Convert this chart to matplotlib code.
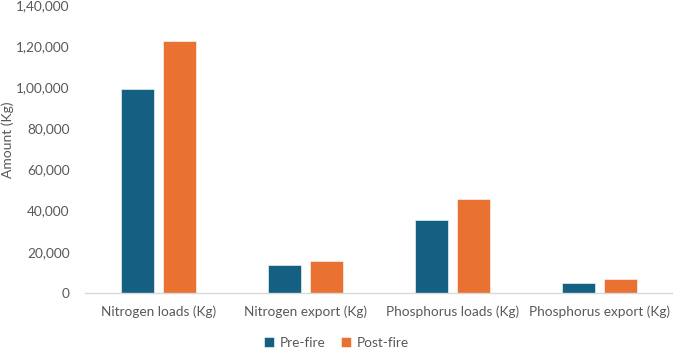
import numpy as np
import matplotlib
matplotlib.use("Agg")
import matplotlib.pyplot as plt
from matplotlib.ticker import FuncFormatter

plt.rcParams["font.family"] = ["Lato", "DejaVu Sans"]

categories = ["Nitrogen loads (Kg)", "Nitrogen export (Kg)",
              "Phosphorus loads (Kg)", "Phosphorus export (Kg)"]
pre_fire = [98900, 13600, 35400, 4900]
post_fire = [122300, 15500, 45600, 6800]
series_labels = ["Pre-fire", "Post-fire"]
colors = ["#156082", "#E97132"]
TEXT = "#595959"


def indian_format(v, _pos=None):
    s = str(int(round(v)))
    if len(s) <= 3:
        return s
    head, tail = s[:-3], s[-3:]
    groups = []
    while len(head) > 2:
        groups.insert(0, head[-2:])
        head = head[:-2]
    if head:
        groups.insert(0, head)
    return ",".join(groups + [tail])


fig = plt.figure(figsize=(6.73, 3.49), dpi=100)
ax = fig.add_axes([0.1263, 0.1605, 0.8737, 0.826])

x = np.arange(len(categories))
w = 0.225
off = 0.143
ax.bar(x - off, pre_fire, w, color=colors[0], label=series_labels[0],
       edgecolor="white", linewidth=0.4)
ax.bar(x + off, post_fire, w, color=colors[1], label=series_labels[1],
       edgecolor="white", linewidth=0.4)

ax.set_xlim(-0.5, len(categories) - 0.5)
ax.set_ylim(0, 140000)
ax.set_yticks(np.arange(0, 140001, 20000))
ax.yaxis.set_major_formatter(FuncFormatter(indian_format))
ax.set_xticks(x)
ax.set_xticklabels(categories)

for s in ["top", "right", "left"]:
    ax.spines[s].set_visible(False)
ax.spines["bottom"].set_color("#d9d9d9")
ax.spines["bottom"].set_linewidth(1.0)
ax.tick_params(axis="both", length=0, labelsize=9.8, colors=TEXT)
ax.tick_params(axis="y", pad=11)
ax.tick_params(axis="x", pad=9)

ax.set_ylabel("Amount (Kg)", fontsize=10, color=TEXT)
ax.yaxis.set_label_coords(-0.121, 0.53)

fig.legend(loc="lower center", bbox_to_anchor=(0.5, -0.035), ncol=2,
           frameon=False, fontsize=9.8, labelcolor=TEXT,
           handlelength=0.7, handleheight=0.7, handletextpad=0.4,
           columnspacing=1.2)

fig.savefig("out.png", dpi=100)
